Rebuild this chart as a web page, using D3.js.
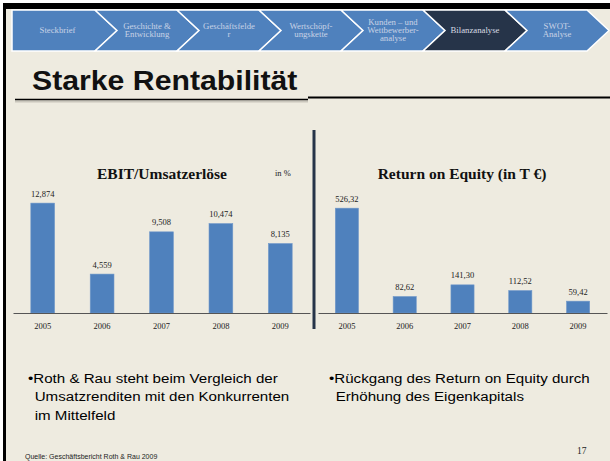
<!DOCTYPE html>
<html>
<head>
<meta charset="utf-8">
<script src="https://cdn.jsdelivr.net/npm/d3@7"></script>
<style>
  body { margin: 0; background: #fff; }
  svg { display: block; }
</style>
</head>
<body>
<div id="slide"></div>
<script>
// navigation ribbon
var navItems = [
  ["Steckbrief"],
  ["Geschichte &", "Entwicklung"],
  ["Geschäftsfelde", "r"],
  ["Wertschöpf-", "ungskette"],
  ["Kunden – und", "Wettbewerber-", "analyse"],
  ["Bilanzanalyse"],
  ["SWOT-", "Analyse"]
];
var activeNav = 5;

// chart data
var years = ["2005", "2006", "2007", "2008", "2009"];
var ebitValues = [12.874, 4.559, 9.508, 10.474, 8.135];
var roeValues = [526.32, 82.62, 141.30, 112.52, 59.42];

var leftBullet = ["Roth & Rau steht beim Vergleich der", "Umsatzrenditen mit den Konkurrenten", "im Mittelfeld"];
var rightBullet = ["Rückgang des Return on Equity durch", "Erhöhung des Eigenkapitals"];

var width = 610, height = 461;
var serif = "'Liberation Serif', 'DejaVu Serif', serif";
var sans = "'Liberation Sans', Arial, sans-serif";
var blue = "#4F81BD";
var navy = "#263449";
var stretch = 1.12; // the slide is a little wider than tall

var de = d3.formatLocale({ decimal: ",", thousands: ".", grouping: [3], currency: ["", " €"] });

var svg = d3
  .select("#slide")
  .append("svg")
  .attr("width", width)
  .attr("height", height);

// background + frame
svg.append("rect").attr("x", 0).attr("y", 0).attr("width", width).attr("height", height).attr("fill", "#fff");
svg.append("rect").attr("x", 3).attr("y", 3).attr("width", width - 3).attr("height", height - 3).attr("fill", "#EEEBE0");
svg.append("rect").attr("x", 3).attr("y", 3).attr("width", width - 3).attr("height", 6).attr("fill", "#000");
svg.append("rect").attr("x", 3).attr("y", 3).attr("width", 3).attr("height", height - 3).attr("fill", "#000");

// ribbon of chevrons
var navTop = 10, navBot = 51, navMid = 30.5, notch = 22;
var nav = svg.append("g").attr("class", "nav");
navItems.forEach(function (lines, i) {
  var x0 = i == 0 ? 12 : 95 + 82 * (i - 1);
  var x1 = 95 + 82 * i;
  var pts = [[x0, navTop], [x1, navTop], [x1 + notch, navMid], [x1, navBot], [x0, navBot]];
  if (i > 0) pts.push([x0 + notch, navMid]);
  nav
    .append("polygon")
    .attr("points", pts.map(function (p) { return p.join(","); }).join(" "))
    .attr("fill", i == activeNav ? navy : blue)
    .attr("stroke", "#fff")
    .attr("stroke-width", 1.5)
    .attr("stroke-linejoin", "miter");
  var cx = i == 0 ? (x0 + x1) / 2 + 4 : (x0 + x1) / 2 + notch / 2;
  var lh = 8;
  nav
    .append("g")
    .attr("transform", "translate(" + cx + ",0) scale(" + stretch + ",1)")
    .append("text")
    .attr("y", navMid - (lines.length - 1) * lh / 2 + 2.8)
    .attr("text-anchor", "middle")
    .style("font-family", serif)
    .style("font-size", "7.8px")
    .style("fill", i == activeNav ? "#D8DCE4" : "#C9D3E6")
    .selectAll("tspan")
    .data(lines)
    .enter()
    .append("tspan")
    .attr("x", 0)
    .attr("dy", function (d, k) { return k == 0 ? 0 : lh; })
    .text(function (d) { return d; });
});

// title
svg.append("g")
  .attr("transform", "translate(32,0) scale(" + stretch + ",1)")
  .append("text")
  .attr("x", 0)
  .attr("y", 90)
  .style("font-family", sans)
  .style("font-weight", "bold")
  .style("font-size", "27px")
  .style("fill", "#111")
  .text("Starke Rentabilität");
svg.append("line").attr("x1", 15).attr("x2", 308).attr("y1", 101.5).attr("y2", 101.5)
  .attr("stroke", "#C9C6BC").attr("stroke-width", 2);
svg.append("line").attr("x1", 15).attr("x2", 308).attr("y1", 99.5).attr("y2", 99.5)
  .attr("stroke", "#000").attr("stroke-width", 1.3);
svg.append("line").attr("x1", 308).attr("x2", width).attr("y1", 97.5).attr("y2", 97.5)
  .attr("stroke", "#000").attr("stroke-width", 2);

// divider
svg.append("line").attr("x1", 314).attr("x2", 314).attr("y1", 130).attr("y2", 329)
  .attr("stroke", navy).attr("stroke-width", 3);

function barChart(opts) {
  var g = svg.append("g");
  var x = d3.scaleBand().domain(years).range(opts.xRange).paddingInner(0.6).paddingOuter(0.3);
  var y = d3.scaleLinear().domain([0, opts.max]).range([313, 193.5]);

  g.selectAll("rect.bar")
    .data(opts.values)
    .enter()
    .append("rect")
    .attr("class", "bar")
    .attr("x", function (d, i) { return x(years[i]); })
    .attr("y", function (d) { return y(d); })
    .attr("width", x.bandwidth())
    .attr("height", function (d) { return y(0) - y(d); })
    .attr("fill", blue)
    .attr("stroke", "#6F97C9")
    .attr("stroke-width", 0.6);

  g.selectAll("text.val")
    .data(opts.values)
    .enter()
    .append("text")
    .attr("class", "val")
    .attr("x", function (d, i) { return x(years[i]) + x.bandwidth() / 2; })
    .attr("y", function (d) { return y(d) - 6.5; })
    .attr("text-anchor", "middle")
    .style("font-family", serif)
    .style("font-size", "8.5px")
    .style("fill", "#222")
    .text(function (d) { return de.format(opts.fmt)(d); });

  var axis = g.append("g")
    .attr("transform", "translate(0,313)")
    .call(d3.axisBottom(x).tickSize(0).tickPadding(10));
  axis.select(".domain").attr("stroke", "#555").attr("stroke-width", 1);
  axis.selectAll("text")
    .style("font-family", serif)
    .style("font-size", "8.5px")
    .style("fill", "#222");

  g.append("text")
    .attr("x", opts.titleX)
    .attr("y", 179)
    .attr("text-anchor", "middle")
    .style("font-family", serif)
    .style("font-weight", "bold")
    .style("font-size", "15.5px")
    .style("fill", "#111")
    .text(opts.title);
  return g;
}

var left = barChart({ xRange: [13, 310], max: 14, values: ebitValues, fmt: ".3f", title: "EBIT/Umsatzerlöse", titleX: 162 });
left.append("text")
  .attr("x", 275)
  .attr("y", 176)
  .style("font-family", serif)
  .style("font-size", "8.5px")
  .style("fill", "#222")
  .text("in %");
barChart({ xRange: [318, 607], max: 600, values: roeValues, fmt: ".2f", title: "Return on Equity (in T €)", titleX: 462 });

// bullet texts
function bullet(lines, x) {
  var t = svg.append("g")
    .attr("transform", "translate(" + x + ",0) scale(" + stretch + ",1)")
    .append("text")
    .style("font-family", sans)
    .style("font-size", "13.5px")
    .style("fill", "#000");
  lines.forEach(function (line, k) {
    t.append("tspan")
      .attr("x", k == 0 ? 0 : 6)
      .attr("y", 383 + k * 18.5)
      .text(k == 0 ? "•" + line : line);
  });
}
bullet(leftBullet, 28);
bullet(rightBullet, 329);

// footer
svg.append("text")
  .attr("x", 25)
  .attr("y", 459)
  .style("font-family", sans)
  .style("font-size", "7px")
  .style("fill", "#222")
  .text("Quelle: Geschäftsbericht Roth & Rau 2009");
svg.append("text")
  .attr("x", 577)
  .attr("y", 454)
  .style("font-family", serif)
  .style("font-size", "9.5px")
  .style("fill", "#222")
  .text("17");
</script>
</body>
</html>
